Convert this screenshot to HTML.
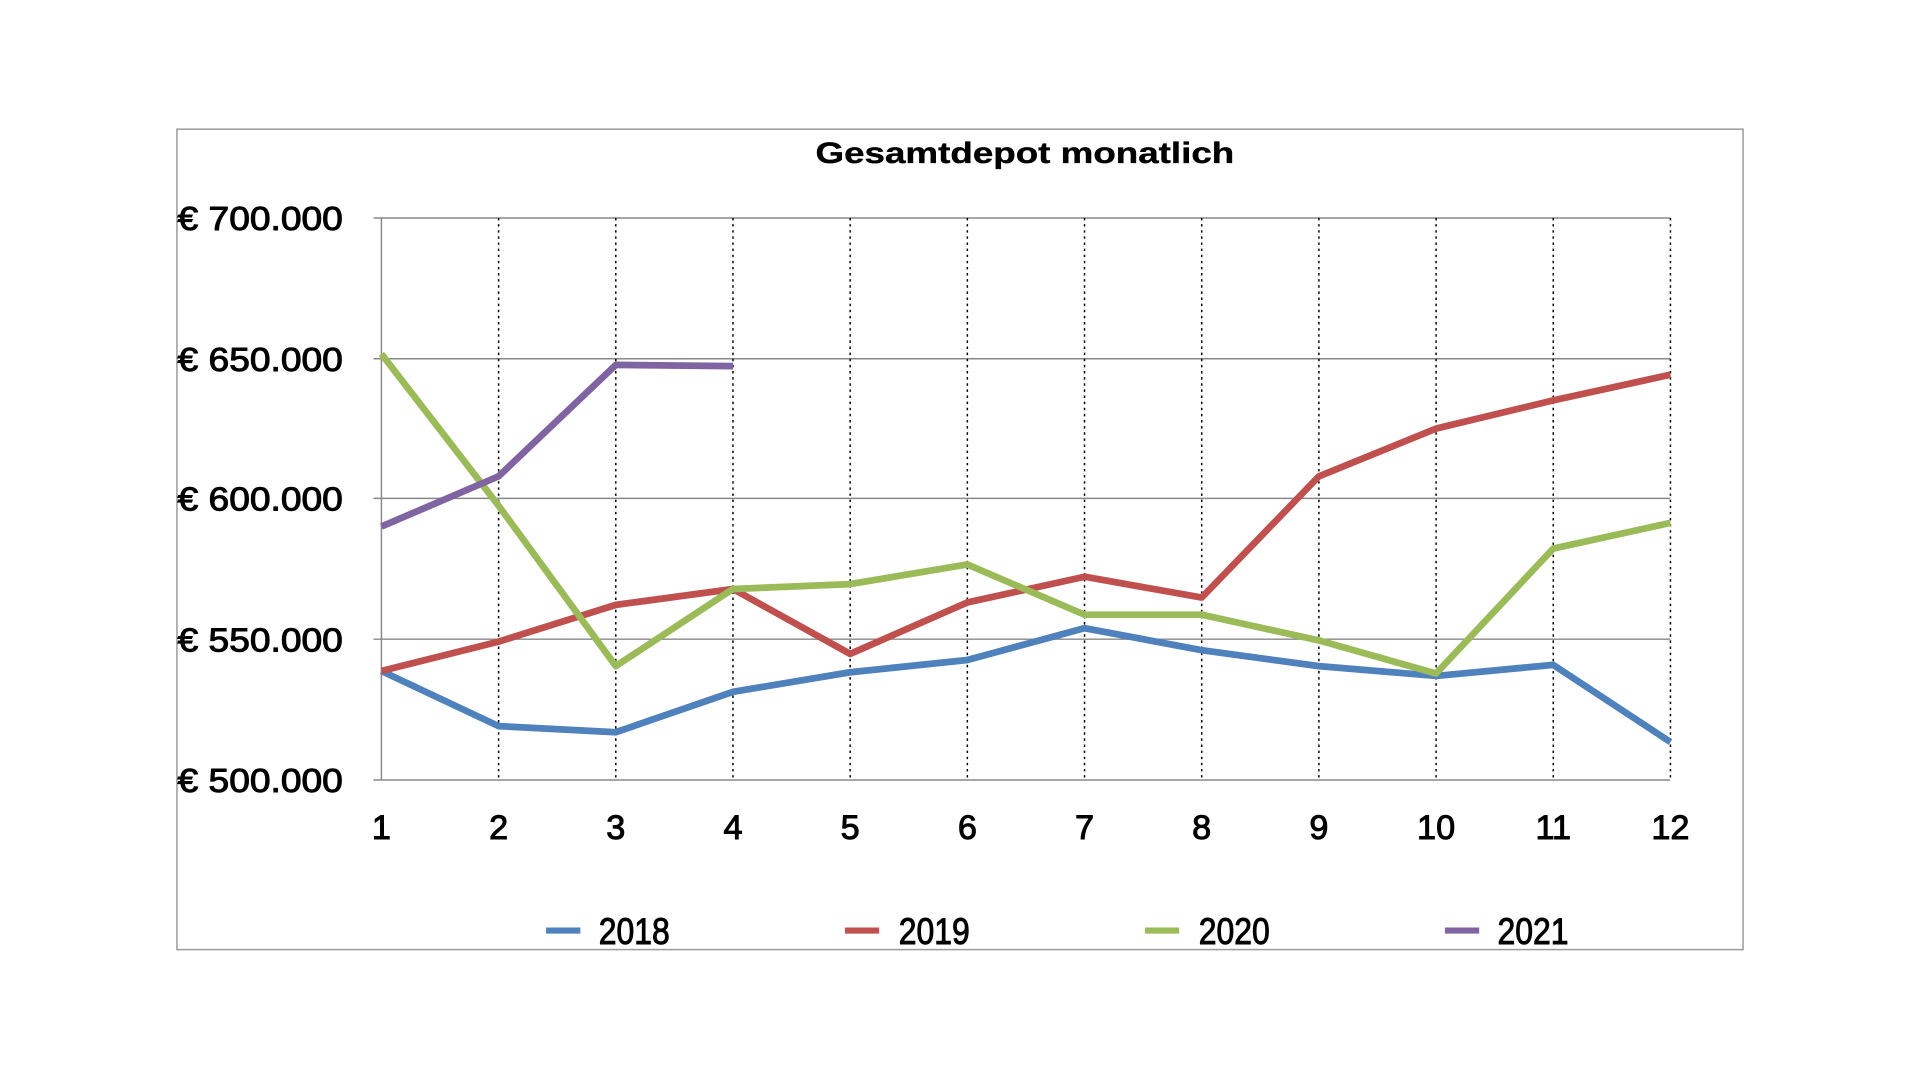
<!DOCTYPE html>
<html><head><meta charset="utf-8"><style>html,body{margin:0;padding:0;background:#fff}svg{display:block}</style></head>
<body>
<svg width="1920" height="1080" viewBox="0 0 1568 882" xmlns="http://www.w3.org/2000/svg" font-family="Liberation Sans, DejaVu Sans, sans-serif">
<rect x="0" y="0" width="1568" height="882" fill="#fff"/>
<rect x="144.5" y="105.5" width="1279" height="670" fill="#fff" stroke="#999" stroke-width="1.2"/>
<text x="837" y="133" text-anchor="middle" font-size="24" font-weight="bold" textLength="342" lengthAdjust="spacingAndGlyphs" stroke="#000" stroke-width="0.3">Gesamtdepot monatlich</text>
<g stroke="#888" stroke-width="1.2">
<line x1="305" y1="178" x2="1364" y2="178"/><line x1="305" y1="293" x2="1364" y2="293"/><line x1="305" y1="407" x2="1364" y2="407"/><line x1="305" y1="522" x2="1364" y2="522"/><line x1="305" y1="637" x2="1364" y2="637"/>
<line x1="311.5" y1="178" x2="311.5" y2="637"/>
</g>
<g stroke="#000" stroke-width="1.2" stroke-dasharray="2,3">
<line x1="407.2" y1="178" x2="407.2" y2="637"/><line x1="502.9" y1="178" x2="502.9" y2="637"/><line x1="598.6" y1="178" x2="598.6" y2="637"/><line x1="694.3" y1="178" x2="694.3" y2="637"/><line x1="790" y1="178" x2="790" y2="637"/><line x1="885.7" y1="178" x2="885.7" y2="637"/><line x1="981.4" y1="178" x2="981.4" y2="637"/><line x1="1077.1" y1="178" x2="1077.1" y2="637"/><line x1="1172.8" y1="178" x2="1172.8" y2="637"/><line x1="1268.5" y1="178" x2="1268.5" y2="637"/><line x1="1364.2" y1="178" x2="1364.2" y2="637"/>
</g>
<g font-size="27" text-anchor="end" stroke="#000" stroke-width="0.8">
<text x="280" y="188" textLength="135" lengthAdjust="spacingAndGlyphs">€ 700.000</text>
<text x="280" y="303" textLength="135" lengthAdjust="spacingAndGlyphs">€ 650.000</text>
<text x="280" y="417" textLength="135" lengthAdjust="spacingAndGlyphs">€ 600.000</text>
<text x="280" y="532" textLength="135" lengthAdjust="spacingAndGlyphs">€ 550.000</text>
<text x="280" y="647" textLength="135" lengthAdjust="spacingAndGlyphs">€ 500.000</text>
</g>
<g font-size="28" text-anchor="middle" stroke="#000" stroke-width="0.8">
<text x="311.5" y="685">1</text><text x="407.2" y="685">2</text><text x="502.9" y="685">3</text><text x="598.6" y="685">4</text><text x="694.3" y="685">5</text><text x="790" y="685">6</text><text x="885.7" y="685">7</text><text x="981.4" y="685">8</text><text x="1077.1" y="685">9</text><text x="1172.8" y="685">10</text><text x="1268.5" y="685">11</text><text x="1364.2" y="685">12</text>
</g>
<g fill="none" stroke-width="5.5" stroke-linejoin="round">
<polyline stroke="#4f81bd" points="311.5,548 407.2,593 502.9,598 598.6,565 694.3,549 790,539 885.7,513 981.4,531 1077.1,544 1172.8,552 1268.5,543 1364.2,606"/>
<polyline stroke="#c0504d" points="311.5,548 407.2,524 502.9,494 598.6,481 694.3,534 790,492 885.7,471 981.4,488 1077.1,389 1172.8,350 1268.5,327 1364.2,306"/>
<polyline stroke="#9bbb59" points="311.5,289 407.2,413 502.9,544 598.6,481 694.3,477 790,461 885.7,502 981.4,502 1077.1,523 1172.8,550 1268.5,448 1364.2,427"/>
<polyline stroke="#8064a2" points="311.5,430 407.2,389 502.9,298 598.6,299"/>
</g>
<g stroke-width="5">
<line x1="446" y1="760" x2="474" y2="760" stroke="#4f81bd"/>
<line x1="690" y1="760" x2="718" y2="760" stroke="#c0504d"/>
<line x1="935" y1="760" x2="963" y2="760" stroke="#9bbb59"/>
<line x1="1180" y1="760" x2="1208" y2="760" stroke="#8064a2"/>
</g>
<g font-size="30" stroke="#000" stroke-width="0.8">
<text x="489" y="771" textLength="58" lengthAdjust="spacingAndGlyphs">2018</text>
<text x="734" y="771" textLength="58" lengthAdjust="spacingAndGlyphs">2019</text>
<text x="979" y="771" textLength="58" lengthAdjust="spacingAndGlyphs">2020</text>
<text x="1223" y="771" textLength="58" lengthAdjust="spacingAndGlyphs">2021</text>
</g>
</svg>
</body></html>
